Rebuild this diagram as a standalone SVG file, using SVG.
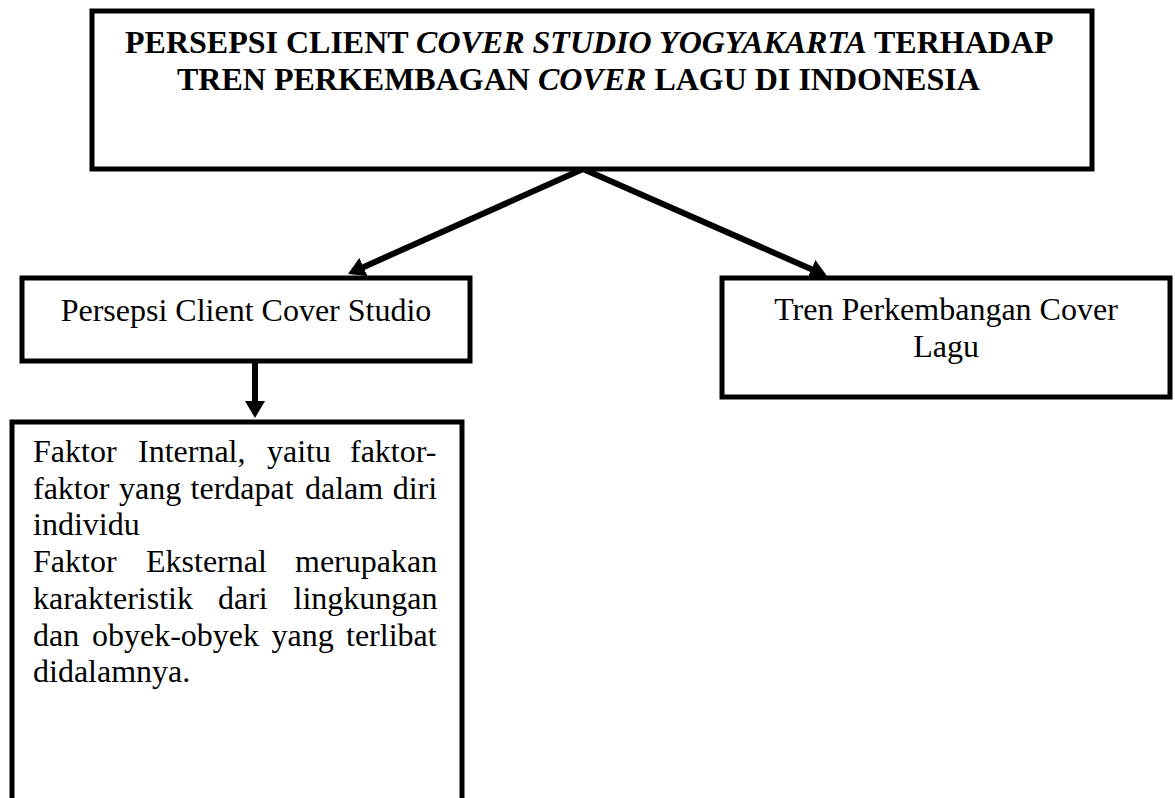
<svg xmlns="http://www.w3.org/2000/svg" width="1175" height="798" viewBox="0 0 1175 798">
<style>
.box{fill:#fff;stroke:#000;stroke-width:5}
.t{font-family:"Liberation Serif","Times New Roman",serif;font-size:32px;fill:#000}
.b{font-weight:bold}
.i{font-style:italic}
.c{stroke:#000;stroke-width:6;fill:none}
</style>
<defs>
<marker id="ah" markerUnits="userSpaceOnUse" markerWidth="18" markerHeight="20" refX="7" refY="10" orient="auto" viewBox="0 0 18 20">
<path d="M0,0 L17,10 L0,20 z" fill="#000"/>
</marker>
</defs>
<rect width="1175" height="798" fill="#fff"/>
<g id="connectors">
<line class="c" x1="583" y1="169" x2="357.1" y2="269.9" marker-end="url(#ah)"/>
<line class="c" x1="583" y1="169" x2="817.8" y2="272" marker-end="url(#ah)"/>
<line class="c" x1="255" y1="362" x2="255" y2="408" marker-end="url(#ah)"/>
</g>
<g id="title">
<rect class="box" x="92" y="11" width="1000" height="158"/>
<text class="t b" x="125" y="53">PERSEPSI CLIENT <tspan class="i">COVER STUDIO YOGYAKARTA</tspan> TERHADAP</text>
<text class="t b" x="177" y="90">TREN PERKEMBAGAN <tspan class="i">COVER</tspan> LAGU DI INDONESIA</text>
</g>
<g id="persepsi">
<rect class="box" x="22" y="278" width="448" height="83"/>
<text class="t" x="246" y="321" text-anchor="middle">Persepsi Client Cover Studio</text>
</g>
<g id="tren">
<rect class="box" x="722" y="278" width="448" height="119"/>
<text class="t" x="946" y="320" text-anchor="middle">Tren Perkembangan Cover</text>
<text class="t" x="946" y="357" text-anchor="middle">Lagu</text>
</g>
<g id="faktor">
<rect class="box" x="12" y="422" width="450" height="400"/>
<text class="t" y="462"><tspan x="33">Faktor</tspan><tspan x="138">Internal,</tspan><tspan x="267">yaitu</tspan><tspan x="350">faktor-</tspan></text>
<text class="t" y="498.7"><tspan x="33">faktor</tspan><tspan x="119">yang</tspan><tspan x="190.6">terdapat</tspan><tspan x="305">dalam</tspan><tspan x="392.7">diri</tspan></text>
<text class="t" x="33" y="535.4">individu</text>
<text class="t" y="572.1"><tspan x="33">Faktor</tspan><tspan x="146">Eksternal</tspan><tspan x="295">merupakan</tspan></text>
<text class="t" y="608.8"><tspan x="33">karakteristik</tspan><tspan x="218">dari</tspan><tspan x="293.5">lingkungan</tspan></text>
<text class="t" y="645.5"><tspan x="33">dan</tspan><tspan x="92">obyek-obyek</tspan><tspan x="271.5">yang</tspan><tspan x="346">terlibat</tspan></text>
<text class="t" x="33" y="682.2">didalamnya.</text>
</g>
</svg>
